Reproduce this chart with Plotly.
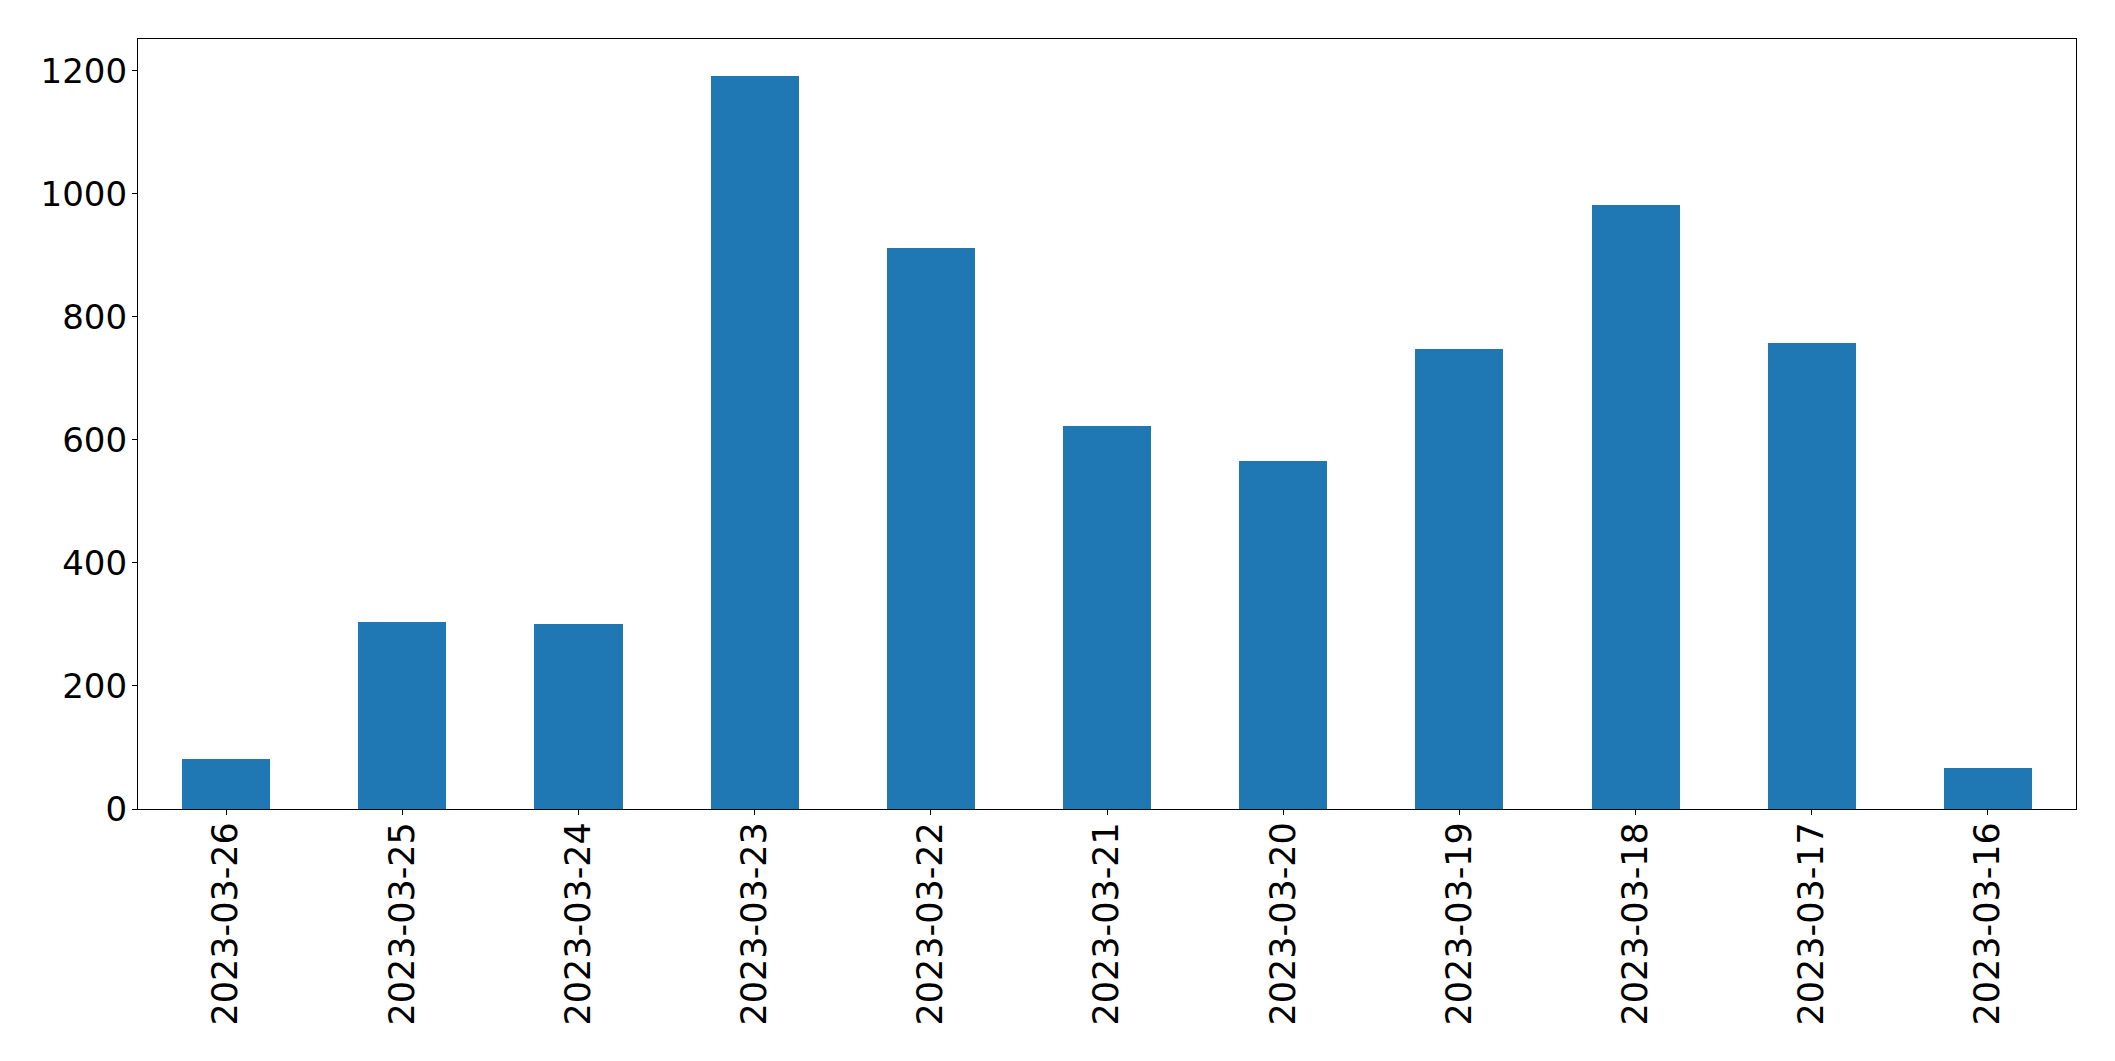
import plotly.graph_objects as go

dates = ["2023-03-26", "2023-03-25", "2023-03-24", "2023-03-23", "2023-03-22",
         "2023-03-21", "2023-03-20", "2023-03-19", "2023-03-18", "2023-03-17",
         "2023-03-16"]
counts = [81, 304, 301, 1192, 912, 623, 566, 748, 982, 758, 67]
y_ticks = [0, 200, 400, 600, 800, 1000, 1200]

fig = go.Figure(go.Bar(
    x=list(range(len(dates))),
    y=counts,
    width=0.5,
    marker=dict(color="#1f77b4", line=dict(width=0)),
))

xfont = dict(family="DejaVu Sans", size=35, color="black")
yfont = dict(family="DejaVu Sans", size=34, color="black")

fig.update_layout(
    width=2115, height=1061,
    margin=dict(l=138, r=39, t=39, b=252, pad=0),
    paper_bgcolor="white", plot_bgcolor="white",
    showlegend=False,
    bargap=0,
)
fig.update_xaxes(
    range=[-0.5, len(dates) - 0.5],
    tickmode="array", tickvals=list(range(len(dates))), ticktext=dates,
    tickangle=-90, tickfont=xfont, ticklabelstandoff=-7,
    ticks="outside", ticklen=5, tickwidth=1.3, tickcolor="black",
    showline=True, linecolor="black", linewidth=1.3, mirror=True,
    showgrid=False, zeroline=False,
)
fig.update_yaxes(
    range=[0, max(counts) * 1.05],
    tickmode="array", tickvals=y_ticks, ticktext=[str(t) for t in y_ticks],
    tickfont=yfont, ticklabelstandoff=-2,
    ticks="outside", ticklen=5, tickwidth=1.3, tickcolor="black",
    showline=True, linecolor="black", linewidth=1.3, mirror=True,
    showgrid=False, zeroline=False,
)

fig.write_html("out.html")
